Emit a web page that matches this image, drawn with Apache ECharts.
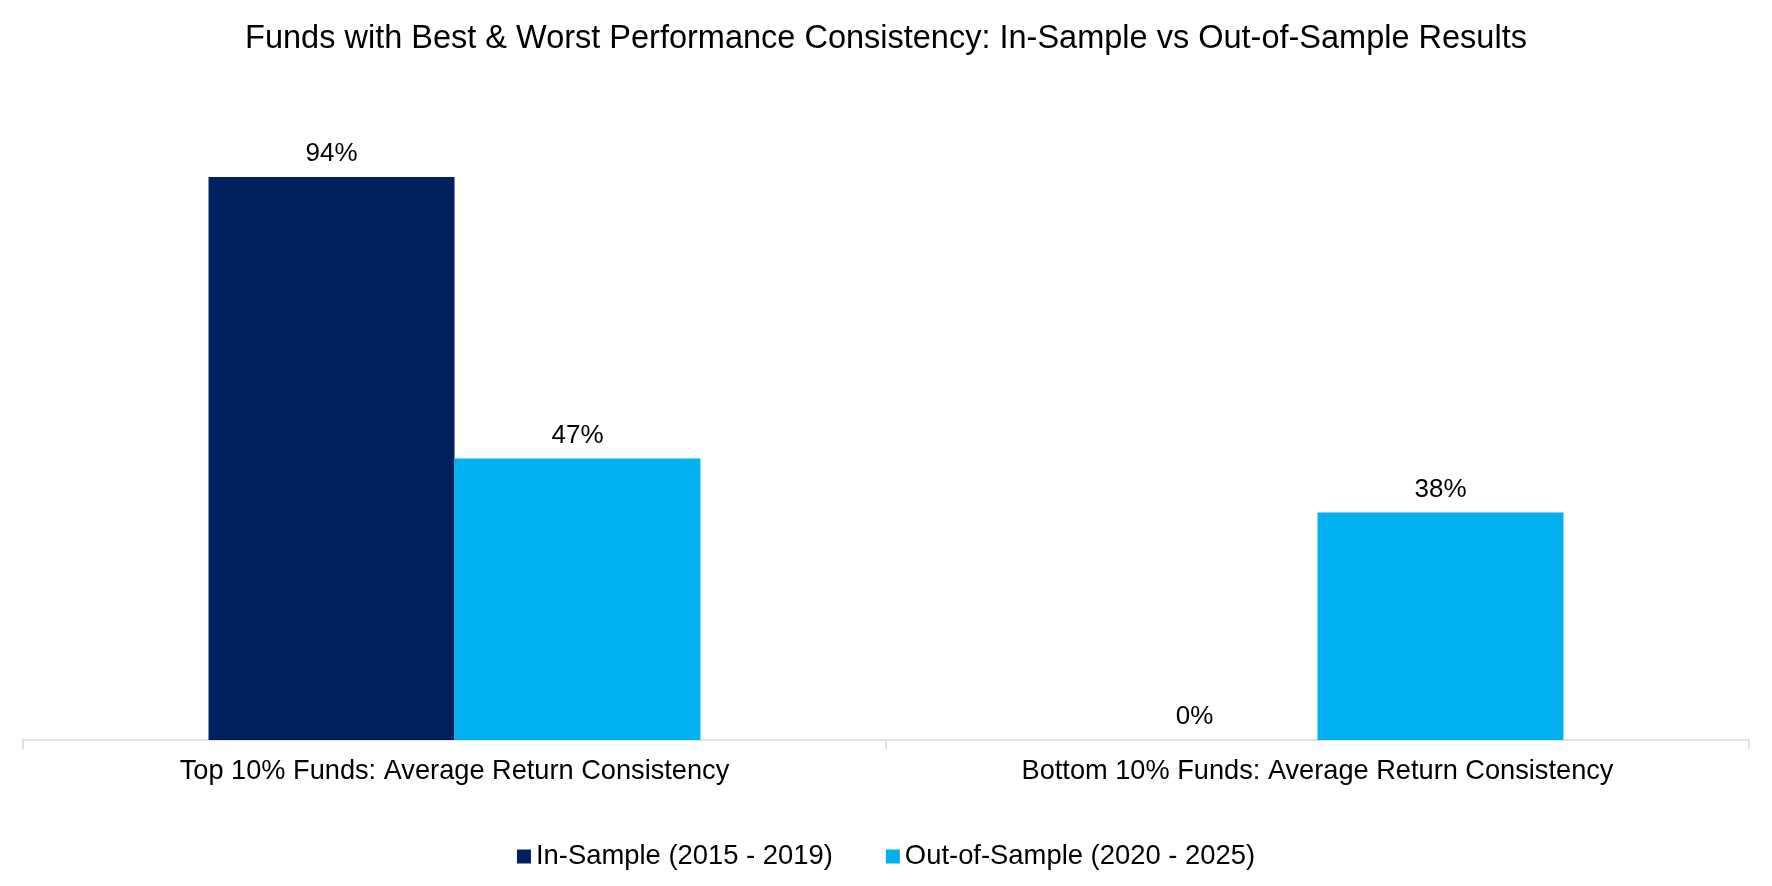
<!DOCTYPE html>
<html>
<head>
<meta charset="utf-8">
<script src="https://cdn.jsdelivr.net/npm/echarts@6/dist/echarts.min.js"></script>
<style>
  html, body { margin: 0; padding: 0; background: #fff; }
  #chart { width: 1772px; height: 886px; }
</style>
</head>
<body>
<div id="chart"></div>
<script>
const categories = [
  "Top 10% Funds: Average Return Consistency",
  "Bottom 10% Funds: Average Return Consistency",
];
const inSample = [94, 0];
const outSample = [47, 38];
const seriesNames = ["In-Sample (2015 - 2019)", "Out-of-Sample (2020 - 2025)"];

const FONT = "'Liberation Sans', Arial, sans-serif";

const dom = document.getElementById("chart");
const myChart = echarts.init(dom);

const barLabel = {
  show: true,
  position: "top",
  distance: 10,
  color: "#000",
  fontFamily: FONT,
  fontSize: 26,
  formatter: (p) => p.value + "%",
};

const option = {
  animation: false,
  title: {
    text: "Funds with Best & Worst Performance Consistency: In-Sample vs Out-of-Sample Results",
    left: "center",
    top: 18,
    textStyle: {
      color: "#000",
      fontFamily: FONT,
      fontSize: 32.5,
      fontWeight: "normal",
    },
  },
  legend: {
    data: seriesNames,
    left: "center",
    top: 838,
    icon: "rect",
    itemWidth: 14,
    itemHeight: 14,
    itemGap: 53,
    textStyle: {
      color: "#000",
      fontFamily: FONT,
      fontSize: 27.4,
    },
  },
  grid: {
    left: 23,
    right: 23,
    top: 141,
    bottom: 146,
    containLabel: false,
  },
  xAxis: {
    type: "category",
    data: categories,
    axisLine: { lineStyle: { color: "#d9d9d9", width: 1.5 } },
    axisTick: { show: true, length: 9, lineStyle: { color: "#d9d9d9", width: 1.5 } },
    axisLabel: {
      color: "#000",
      fontFamily: FONT,
      fontSize: 27.2,
      margin: 18,
    },
  },
  yAxis: {
    type: "value",
    min: 0,
    max: 100,
    show: false,
    splitLine: { show: false },
  },
  series: [
    {
      name: seriesNames[0],
      type: "bar",
      data: inSample,
      barGap: "0%",
      barCategoryGap: "43%",
      itemStyle: { color: "#002060" },
      label: barLabel,
    },
    {
      name: seriesNames[1],
      type: "bar",
      data: outSample,
      itemStyle: { color: "#00B0F0" },
      label: barLabel,
    },
  ],
};

myChart.setOption(option);
</script>
</body>
</html>
